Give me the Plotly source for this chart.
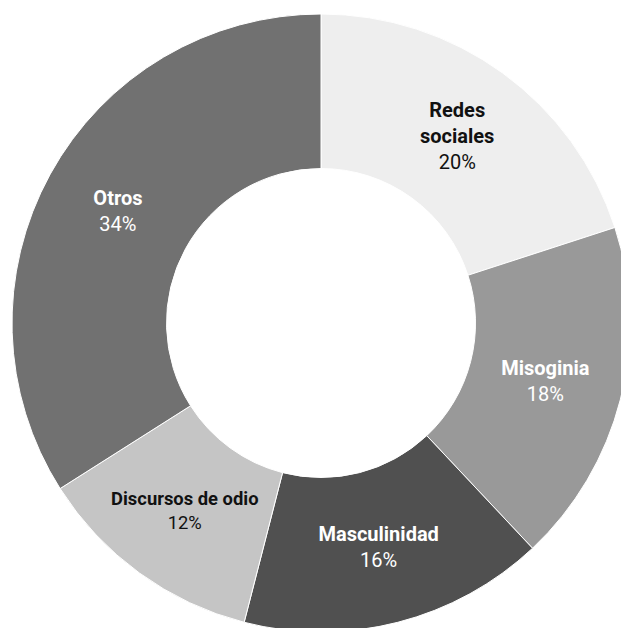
import plotly.graph_objects as go

categories = ["Redes sociales", "Misoginia", "Masculinidad", "Discursos de odio", "Otros"]
display_labels = ["Redes<br>sociales", "Misoginia", "Masculinidad", "Discursos de odio", "Otros"]
values = [20, 18, 16, 12, 34]
colors = ["#eeeeee", "#999999", "#505050", "#c5c5c5", "#717171"]
text_colors = ["#111111", "#ffffff", "#ffffff", "#111111", "#ffffff"]

W, H = 642, 646
fig = go.Figure(go.Pie(
    labels=categories,
    values=values,
    customdata=display_labels,
    hole=0.5,
    sort=False,
    direction="clockwise",
    rotation=0,
    marker=dict(colors=colors, line=dict(color="#ffffff", width=1)),
    texttemplate="<b>%{customdata}</b><br>%{percent:.0%}",
    textposition="inside",
    insidetextorientation="horizontal",
    textfont=dict(family="Roboto", size=20, color=text_colors),
    showlegend=False,
    domain=dict(x=[12 / W, 630 / W], y=[(H - 632) / H, (H - 14) / H]),
))

fig.update_layout(
    width=W, height=H,
    margin=dict(l=0, r=0, t=0, b=0),
    paper_bgcolor="#ffffff",
    plot_bgcolor="#ffffff",
)

fig.write_html(
    "out.html",
    config={"displayModeBar": False},
    post_script="document.body.style.margin='0';document.body.style.overflow='hidden';document.documentElement.style.overflow='hidden';",
)
